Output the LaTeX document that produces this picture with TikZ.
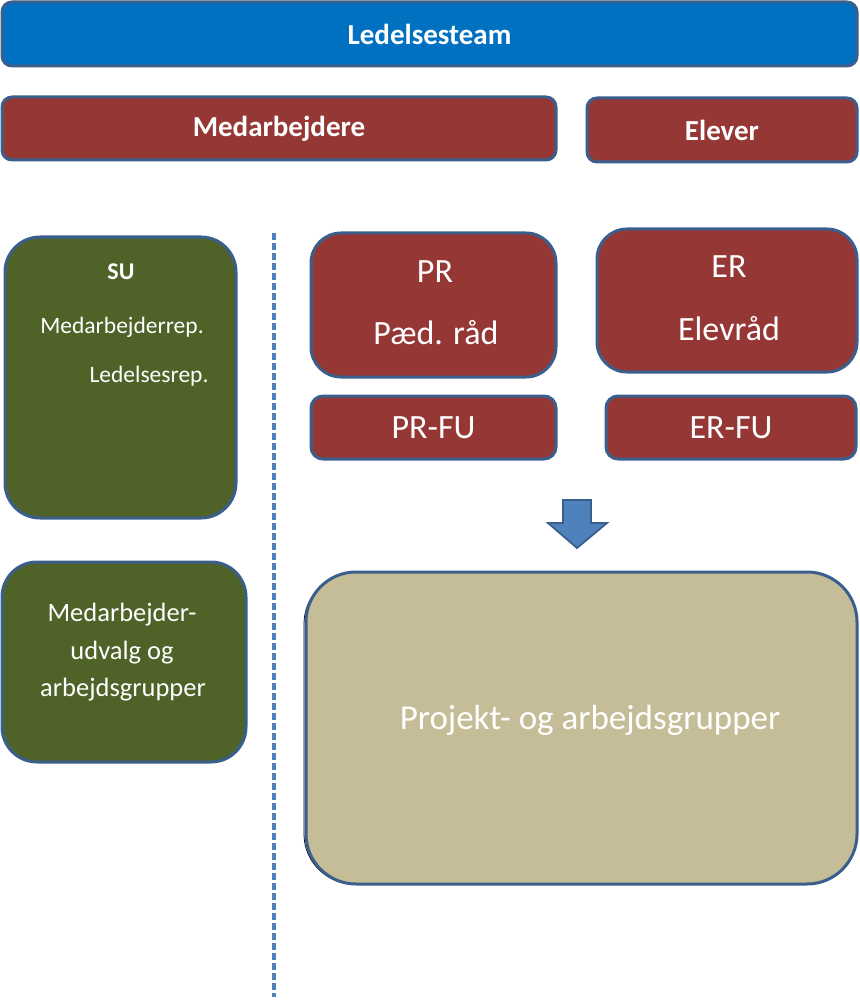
\documentclass[tikz,border=0pt]{standalone}
\usepackage{fontspec}
\setmainfont{Carlito}
\definecolor{edgeblue}{HTML}{3A5F8D}
\definecolor{topblue}{HTML}{0070C0}
\definecolor{redbox}{HTML}{953735}
\definecolor{greenbox}{HTML}{4F6228}
\definecolor{tanbox}{HTML}{C4BD97}
\definecolor{lineblue}{HTML}{4F81BD}
\tikzset{
  box/.style={draw=edgeblue, line width=3pt, text=white, inner sep=0pt, anchor=center},
  redb/.style={box, fill=redbox},
  greenb/.style={box, fill=greenbox},
  lbl/.style={text=white, inner sep=0pt, anchor=center},
}
\begin{document}
\begin{tikzpicture}[x=1pt,y=-1pt]
\useasboundingbox (0,0) rectangle (859,1000);
% top boxes
\node[box, fill=topblue, rounded corners=10pt, minimum width=855pt, minimum height=64pt,
  font=\fontsize{29}{34}\selectfont\bfseries] (led) at (429.5,34) {Ledelsesteam};
\node[redb, rounded corners=10pt, minimum width=554pt, minimum height=63pt,
  font=\fontsize{29}{34}\selectfont\bfseries] (med) at (279,128.5) {Medarbejdere};
\node[redb, rounded corners=10pt, minimum width=270pt, minimum height=64pt,
  font=\fontsize{29}{34}\selectfont\bfseries] (elev) at (722,130) {Elever};
% SU
\node[greenb, rounded corners=35pt, minimum width=231pt, minimum height=281pt] (su) at (120.5,377.5) {};
\node[lbl, font=\fontsize{24}{28}\selectfont\bfseries] (sut) at (121,272) {SU};
\node[lbl, font=\fontsize{23.5}{28}\selectfont] (sum) at (122,327) {Medarbejderrep.};
\node[lbl, font=\fontsize{23.5}{28}\selectfont] (sul) at (149,376) {Ledelsesrep.};
% Medarbejderudvalg
\node[greenb, rounded corners=35pt, minimum width=244pt, minimum height=200pt] (mu) at (124,662) {};
\node[lbl, font=\fontsize{26.5}{30}\selectfont] (mu1) at (122,615) {Medarbejder-};
\node[lbl, font=\fontsize{26.5}{30}\selectfont] (mu2) at (122,653) {udvalg og};
\node[lbl, font=\fontsize{26.5}{30}\selectfont] (mu3) at (123,690) {arbejdsgrupper};
% dashed divider
\coordinate (dtop) at (274,233);
\coordinate (dbot) at (274,997);
\draw[lineblue, line width=3.5pt, dash pattern=on 7pt off 3pt] (dtop) -- (dbot);
% PR / ER
\node[redb, rounded corners=30pt, minimum width=245pt, minimum height=144pt] (pr) at (433.5,305) {};
\node[lbl, font=\fontsize{34}{40}\selectfont] (pr1) at (435,272) {PR};
\node[lbl, font=\fontsize{34}{40}\selectfont] (pr2) at (436,333) {Pæd. råd};
\node[redb, rounded corners=30pt, minimum width=260pt, minimum height=143pt] (er) at (727,300.5) {};
\node[lbl, font=\fontsize{34}{40}\selectfont] (er1) at (729,267) {ER};
\node[lbl, font=\fontsize{34}{40}\selectfont] (er2) at (729,329) {Elevråd};
\node[redb, rounded corners=12pt, minimum width=245pt, minimum height=63pt,
  font=\fontsize{34}{40}\selectfont] (prfu) at (433.5,427.5) {PR-FU};
\node[redb, rounded corners=12pt, minimum width=250pt, minimum height=63pt,
  font=\fontsize{34}{40}\selectfont] (erfu) at (731,427.5) {ER-FU};
% block arrow
\draw[fill=lineblue, draw=edgeblue, line width=1.8pt, line join=miter]
  (563,500) -- (591,500) -- (591,523) -- (607,523) -- (577,548) -- (548,523) -- (563,523) -- cycle;
% Projekt box
\draw[black, line width=0.8pt, rounded corners=50pt] (304,574) rectangle (854,884);
\node[box, fill=tanbox, rounded corners=50pt, minimum width=551pt, minimum height=312pt] (proj) at (581.5,728) {};
\node[lbl, font=\fontsize{35}{40}\selectfont] (projt) at (590,720) {Projekt- og arbejdsgrupper};
\end{tikzpicture}
\end{document}
